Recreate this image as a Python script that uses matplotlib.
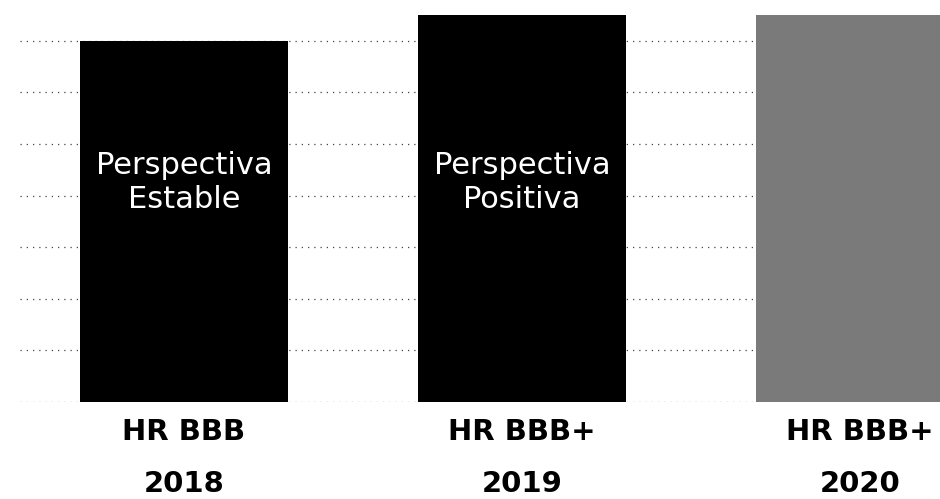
import numpy as np
import matplotlib
matplotlib.use("Agg")
import matplotlib.pyplot as plt

# Calificaciones por año (escala numérica de la nota)
years = ["2018", "2019", "2020"]
ratings = ["HR BBB", "HR BBB+", "HR BBB+"]
scores = [7.0, 7.5, 7.5]
outlooks = ["Perspectiva\nEstable", "Perspectiva\nPositiva", ""]
bar_colors = ["#000000", "#000000", "#7a7a7a"]

fig = plt.figure(figsize=(9.4, 4.99), dpi=100)
ax = fig.add_axes([20 / 940, 97 / 499, 920 / 940, 402 / 499])

x = np.arange(len(years))
ax.bar(x, scores, width=0.615, color=bar_colors, zorder=2)

# dotted gridlines behind the bars
for g in range(0, 8):
    ax.axhline(g, color="#444444", linestyle=(0, (1, 4)), linewidth=0.9, zorder=1)

for i, txt in enumerate(outlooks):
    if txt:
        ax.text(x[i], 4.25, txt, color="white", fontsize=22, ha="center",
                va="center", linespacing=1.2, zorder=3)

trans = ax.get_xaxis_transform()
for i in range(len(years)):
    ax.text(x[i], -0.075, ratings[i], transform=trans, ha="center", va="center",
            fontsize=21, fontweight="bold", clip_on=False)
    ax.text(x[i], -0.205, years[i], transform=trans, ha="center", va="center",
            fontsize=21, fontweight="bold", clip_on=False)

ax.set_xlim(-0.485, 2.237)
ax.set_ylim(0, 7.79)
ax.axis("off")

fig.savefig("out.png", dpi=100)
